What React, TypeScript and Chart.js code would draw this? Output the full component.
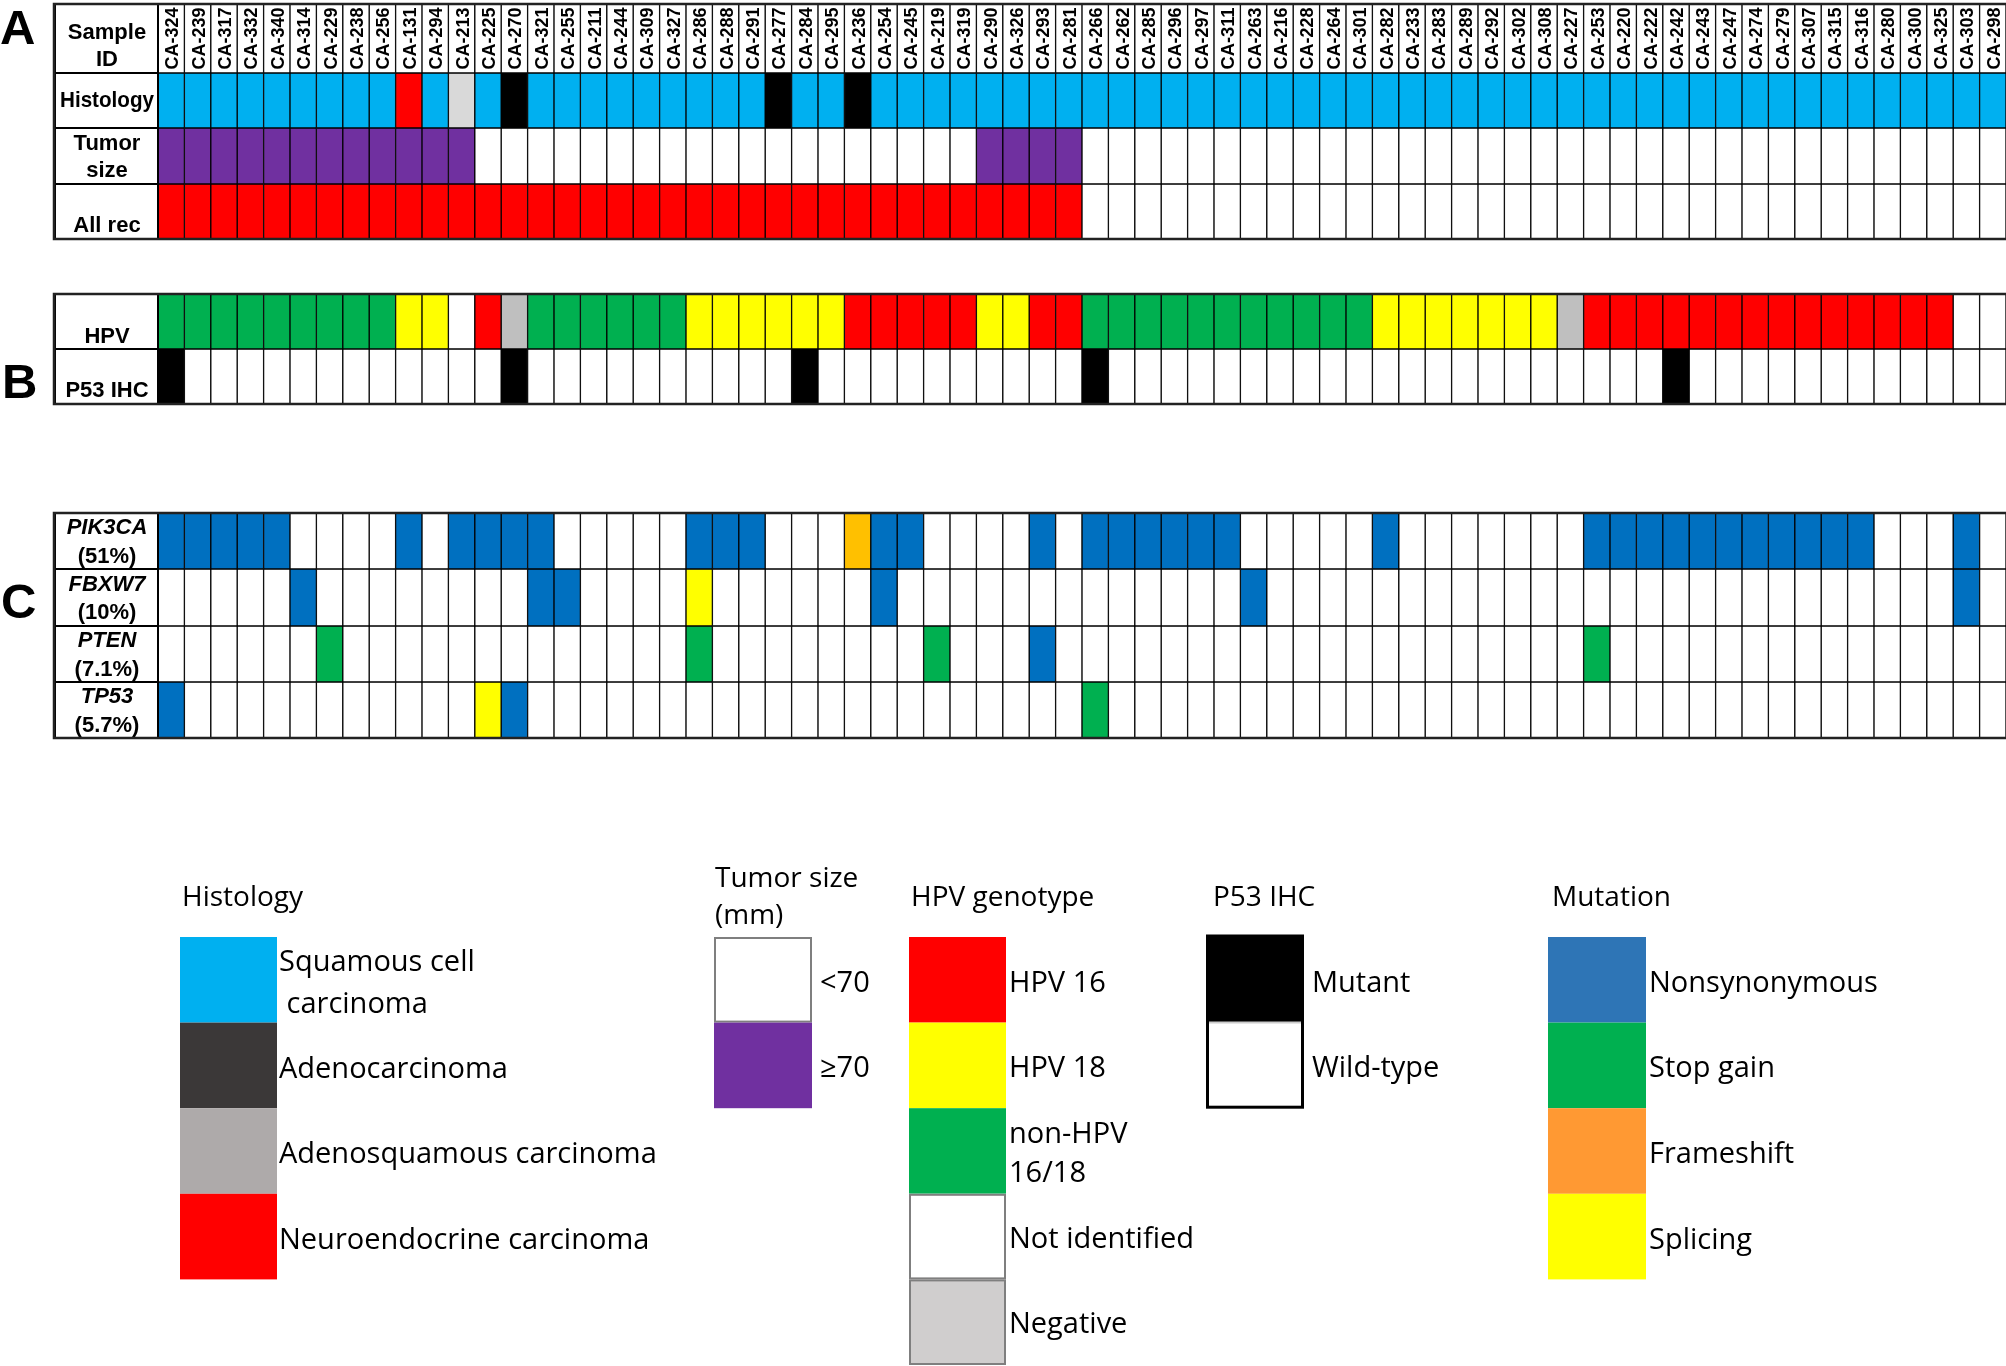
import React, { useEffect, useRef } from "react";
import { Chart, registerables } from "chart.js";

Chart.register(...registerables);

// ---------------- DATA ----------------
const SAMPLES = [
  "CA-324", "CA-239", "CA-317", "CA-332", "CA-340", "CA-314", "CA-229", "CA-238", "CA-256", "CA-131",
  "CA-294", "CA-213", "CA-225", "CA-270", "CA-321", "CA-255", "CA-211", "CA-244", "CA-309", "CA-327",
  "CA-286", "CA-288", "CA-291", "CA-277", "CA-284", "CA-295", "CA-236", "CA-254", "CA-245", "CA-219",
  "CA-319", "CA-290", "CA-326", "CA-293", "CA-281", "CA-266", "CA-262", "CA-285", "CA-296", "CA-297",
  "CA-311", "CA-263", "CA-216", "CA-228", "CA-264", "CA-301", "CA-282", "CA-233", "CA-283", "CA-289",
  "CA-292", "CA-302", "CA-308", "CA-227", "CA-253", "CA-220", "CA-222", "CA-242", "CA-243", "CA-247",
  "CA-274", "CA-279", "CA-307", "CA-315", "CA-316", "CA-280", "CA-300", "CA-325", "CA-303", "CA-298",
];

// SCC squamous, ADC adeno, ASC adenosquamous, NEC neuroendocrine
const HISTOLOGY = [
  "SCC", "SCC", "SCC", "SCC", "SCC", "SCC", "SCC", "SCC", "SCC", "NEC",
  "SCC", "ASC", "SCC", "ADC", "SCC", "SCC", "SCC", "SCC", "SCC", "SCC",
  "SCC", "SCC", "SCC", "ADC", "SCC", "SCC", "ADC", "SCC", "SCC", "SCC",
  "SCC", "SCC", "SCC", "SCC", "SCC", "SCC", "SCC", "SCC", "SCC", "SCC",
  "SCC", "SCC", "SCC", "SCC", "SCC", "SCC", "SCC", "SCC", "SCC", "SCC",
  "SCC", "SCC", "SCC", "SCC", "SCC", "SCC", "SCC", "SCC", "SCC", "SCC",
  "SCC", "SCC", "SCC", "SCC", "SCC", "SCC", "SCC", "SCC", "SCC", "SCC",
];

const TUMOR_SIZE = [
  ">=70", ">=70", ">=70", ">=70", ">=70", ">=70", ">=70", ">=70", ">=70", ">=70",
  ">=70", ">=70", "<70", "<70", "<70", "<70", "<70", "<70", "<70", "<70",
  "<70", "<70", "<70", "<70", "<70", "<70", "<70", "<70", "<70", "<70",
  "<70", ">=70", ">=70", ">=70", ">=70", "<70", "<70", "<70", "<70", "<70",
  "<70", "<70", "<70", "<70", "<70", "<70", "<70", "<70", "<70", "<70",
  "<70", "<70", "<70", "<70", "<70", "<70", "<70", "<70", "<70", "<70",
  "<70", "<70", "<70", "<70", "<70", "<70", "<70", "<70", "<70", "<70",
];

const ALL_REC = [
  "Y", "Y", "Y", "Y", "Y", "Y", "Y", "Y", "Y", "Y",
  "Y", "Y", "Y", "Y", "Y", "Y", "Y", "Y", "Y", "Y",
  "Y", "Y", "Y", "Y", "Y", "Y", "Y", "Y", "Y", "Y",
  "Y", "Y", "Y", "Y", "Y", "N", "N", "N", "N", "N",
  "N", "N", "N", "N", "N", "N", "N", "N", "N", "N",
  "N", "N", "N", "N", "N", "N", "N", "N", "N", "N",
  "N", "N", "N", "N", "N", "N", "N", "N", "N", "N",
];

// 16 = HPV16, 18 = HPV18, O = non-HPV 16/18, ND = not identified, NEG = negative
const HPV = [
  "O", "O", "O", "O", "O", "O", "O", "O", "O", "18",
  "18", "ND", "16", "NEG", "O", "O", "O", "O", "O", "O",
  "18", "18", "18", "18", "18", "18", "16", "16", "16", "16",
  "16", "18", "18", "16", "16", "O", "O", "O", "O", "O",
  "O", "O", "O", "O", "O", "O", "18", "18", "18", "18",
  "18", "18", "18", "NEG", "16", "16", "16", "16", "16", "16",
  "16", "16", "16", "16", "16", "16", "16", "16", "ND", "ND",
];

// M = mutant, W = wild-type
const P53_IHC = [
  "M", "W", "W", "W", "W", "W", "W", "W", "W", "W",
  "W", "W", "W", "M", "W", "W", "W", "W", "W", "W",
  "W", "W", "W", "W", "M", "W", "W", "W", "W", "W",
  "W", "W", "W", "W", "W", "M", "W", "W", "W", "W",
  "W", "W", "W", "W", "W", "W", "W", "W", "W", "W",
  "W", "W", "W", "W", "W", "W", "W", "M", "W", "W",
  "W", "W", "W", "W", "W", "W", "W", "W", "W", "W",
];

// N = nonsynonymous, S = stop gain, F = frameshift, P = splicing, - = none
const PIK3CA = [
  "N", "N", "N", "N", "N", "-", "-", "-", "-", "N",
  "-", "N", "N", "N", "N", "-", "-", "-", "-", "-",
  "N", "N", "N", "-", "-", "-", "F", "N", "N", "-",
  "-", "-", "-", "N", "-", "N", "N", "N", "N", "N",
  "N", "-", "-", "-", "-", "-", "N", "-", "-", "-",
  "-", "-", "-", "-", "N", "N", "N", "N", "N", "N",
  "N", "N", "N", "N", "N", "-", "-", "-", "N", "-",
];

const FBXW7 = [
  "-", "-", "-", "-", "-", "N", "-", "-", "-", "-",
  "-", "-", "-", "-", "N", "N", "-", "-", "-", "-",
  "P", "-", "-", "-", "-", "-", "-", "N", "-", "-",
  "-", "-", "-", "-", "-", "-", "-", "-", "-", "-",
  "-", "N", "-", "-", "-", "-", "-", "-", "-", "-",
  "-", "-", "-", "-", "-", "-", "-", "-", "-", "-",
  "-", "-", "-", "-", "-", "-", "-", "-", "N", "-",
];

const PTEN = [
  "-", "-", "-", "-", "-", "-", "S", "-", "-", "-",
  "-", "-", "-", "-", "-", "-", "-", "-", "-", "-",
  "S", "-", "-", "-", "-", "-", "-", "-", "-", "S",
  "-", "-", "-", "N", "-", "-", "-", "-", "-", "-",
  "-", "-", "-", "-", "-", "-", "-", "-", "-", "-",
  "-", "-", "-", "-", "S", "-", "-", "-", "-", "-",
  "-", "-", "-", "-", "-", "-", "-", "-", "-", "-",
];

const TP53 = [
  "N", "-", "-", "-", "-", "-", "-", "-", "-", "-",
  "-", "-", "P", "N", "-", "-", "-", "-", "-", "-",
  "-", "-", "-", "-", "-", "-", "-", "-", "-", "-",
  "-", "-", "-", "-", "-", "S", "-", "-", "-", "-",
  "-", "-", "-", "-", "-", "-", "-", "-", "-", "-",
  "-", "-", "-", "-", "-", "-", "-", "-", "-", "-",
  "-", "-", "-", "-", "-", "-", "-", "-", "-", "-",
];

// ---------------- STYLES / LAYOUT ----------------
const W = 2006;
const H = 1366;
const LABEL_LEFT = 54;
const GRID_LEFT = 158;
const Y_MAX = 740;

const HIST_COLORS: Record<string, string> = { SCC: "#00b0f0", ADC: "#000000", ASC: "#d9d9d9", NEC: "#ff0000" };
const SIZE_COLORS: Record<string, string> = { ">=70": "#7030a0", "<70": "#ffffff" };
const REC_COLORS: Record<string, string> = { Y: "#ff0000", N: "#ffffff" };
const HPV_COLORS: Record<string, string> = { "16": "#ff0000", "18": "#ffff00", O: "#00b050", ND: "#ffffff", NEG: "#bfbfbf" };
const P53_COLORS: Record<string, string> = { M: "#000000", W: "#ffffff" };
const MUT_COLORS: Record<string, string> = { N: "#0070c0", S: "#00b050", F: "#ffc000", P: "#ffff00", "-": "#ffffff" };

type LabelLine = { text: string; base: number; italic?: boolean };
type Row = { values: string[]; colors: Record<string, string>; top: number; bottom: number; label: LabelLine[]; header?: boolean };

const ROWS: Row[] = [
  { values: SAMPLES, colors: {}, top: 4, bottom: 73, header: true, label: [{ text: "Sample", base: 35 }, { text: "ID", base: 62 }] },
  { values: HISTOLOGY, colors: HIST_COLORS, top: 73, bottom: 128, label: [{ text: "Histology", base: 34 }] },
  { values: TUMOR_SIZE, colors: SIZE_COLORS, top: 128, bottom: 184, label: [{ text: "Tumor", base: 22 }, { text: "size", base: 49 }] },
  { values: ALL_REC, colors: REC_COLORS, top: 184, bottom: 239, label: [{ text: "All rec", base: 48 }] },
  { values: HPV, colors: HPV_COLORS, top: 294, bottom: 349, label: [{ text: "HPV", base: 49 }] },
  { values: P53_IHC, colors: P53_COLORS, top: 349, bottom: 404, label: [{ text: "P53 IHC", base: 48 }] },
  { values: PIK3CA, colors: MUT_COLORS, top: 513, bottom: 569, label: [{ text: "PIK3CA", base: 21, italic: true }, { text: "(51%)", base: 50 }] },
  { values: FBXW7, colors: MUT_COLORS, top: 569, bottom: 626, label: [{ text: "FBXW7", base: 22, italic: true }, { text: "(10%)", base: 50 }] },
  { values: PTEN, colors: MUT_COLORS, top: 626, bottom: 682, label: [{ text: "PTEN", base: 21, italic: true }, { text: "(7.1%)", base: 50 }] },
  { values: TP53, colors: MUT_COLORS, top: 682, bottom: 738, label: [{ text: "TP53", base: 21, italic: true }, { text: "(5.7%)", base: 50 }] },
];

const BLOCKS = [
  { letter: "A", top: 4, bottom: 239, lx: 0, ly: 44 },
  { letter: "B", top: 294, bottom: 404, lx: 2, ly: 398 },
  { letter: "C", top: 513, bottom: 738, lx: 1, ly: 618 },
];

type LegendItem = { label: string[]; color: string; border?: string };
type LegendGroup = { title: string[]; tx: number; ty: number[]; bx: number; bw: number; items: LegendItem[]; lx: number; lys: number[][]; outline?: string };

const LEGEND: LegendGroup[] = [
  {
    title: ["Histology"], tx: 182, ty: [906], bx: 180, bw: 97, lx: 279,
    items: [
      { label: ["Squamous cell", " carcinoma"], color: "#00b0f0" },
      { label: ["Adenocarcinoma"], color: "#3b3838" },
      { label: ["Adenosquamous carcinoma"], color: "#aeaaaa" },
      { label: ["Neuroendocrine carcinoma"], color: "#ff0000" },
    ],
    lys: [[971, 1013], [1078], [1163], [1249]],
  },
  {
    title: ["Tumor size", "(mm)"], tx: 715, ty: [887, 924], bx: 714, bw: 98, lx: 820,
    items: [
      { label: ["<70"], color: "#ffffff", border: "#7f7f7f" },
      { label: ["\u226570"], color: "#7030a0" },
    ],
    lys: [[992], [1077]],
  },
  {
    title: ["HPV genotype"], tx: 911, ty: [906], bx: 909, bw: 97, lx: 1009,
    items: [
      { label: ["HPV 16"], color: "#ff0000" },
      { label: ["HPV 18"], color: "#ffff00" },
      { label: ["non-HPV", "16/18"], color: "#00b050" },
      { label: ["Not identified"], color: "#ffffff", border: "#7f7f7f" },
      { label: ["Negative"], color: "#d0cece", border: "#7f7f7f" },
    ],
    lys: [[992], [1077], [1143, 1182], [1248], [1333]],
  },
  {
    title: ["P53 IHC"], tx: 1213, ty: [906], bx: 1206, bw: 98, lx: 1312, outline: "#000000",
    items: [
      { label: ["Mutant"], color: "#000000" },
      { label: ["Wild-type"], color: "#ffffff" },
    ],
    lys: [[992], [1077]],
  },
  {
    title: ["Mutation"], tx: 1552, ty: [906], bx: 1548, bw: 98, lx: 1649,
    items: [
      { label: ["Nonsynonymous"], color: "#2e75b6" },
      { label: ["Stop gain"], color: "#00b050" },
      { label: ["Frameshift"], color: "#ff9933" },
      { label: ["Splicing"], color: "#ffff00" },
    ],
    lys: [[992], [1077], [1163], [1249]],
  },
];
const LEGEND_TOP = 937;
const LEGEND_STEP = 85.6;

const BOLD = '"Liberation Sans", Arial, Helvetica, sans-serif';
const LEG_FONT = '"Open Sans", "Noto Sans", sans-serif';

const overlayPlugin = {
  id: "oncoOverlay",
  afterDatasetsDraw(chart: any) {
    const ctx: CanvasRenderingContext2D = chart.ctx;
    const xs = chart.scales.x;
    const ys = chart.scales.y;
    ctx.save();

    // Row label boxes
    for (const row of ROWS) {
      const t = ys.getPixelForValue(row.top);
      const b = ys.getPixelForValue(row.bottom);
      ctx.fillStyle = "#ffffff";
      ctx.fillRect(LABEL_LEFT, t, GRID_LEFT - LABEL_LEFT, b - t);
      ctx.strokeStyle = "#000000";
      ctx.lineWidth = 2;
      ctx.strokeRect(LABEL_LEFT + 1, t, GRID_LEFT - LABEL_LEFT - 1, b - t);
      ctx.fillStyle = "#000000";
      ctx.textAlign = "center";
      ctx.textBaseline = "alphabetic";
      for (const line of row.label) {
        ctx.font = `${line.italic ? "italic " : ""}bold 22px ${BOLD}`;
        ctx.fillText(line.text, (LABEL_LEFT + GRID_LEFT) / 2 + 1, t + line.base, 94);
      }
    }

    // Sample IDs (vertical) in header row
    const header = ROWS[0];
    const yc = (ys.getPixelForValue(header.top) + ys.getPixelForValue(header.bottom)) / 2;
    ctx.font = `bold 19px ${BOLD}`;
    ctx.fillStyle = "#000000";
    ctx.textAlign = "center";
    ctx.textBaseline = "alphabetic";
    SAMPLES.forEach((id, i) => {
      const x = xs.getPixelForValue(i);
      ctx.save();
      ctx.translate(x, yc);
      ctx.rotate(-Math.PI / 2);
      ctx.fillText(id, 0, 7, 62);
      ctx.restore();
    });

    // Block outlines (top / bottom / left)
    ctx.strokeStyle = "#222222";
    ctx.lineWidth = 2.5;
    for (const blk of BLOCKS) {
      const t = ys.getPixelForValue(blk.top);
      const b = ys.getPixelForValue(blk.bottom);
      ctx.beginPath();
      ctx.moveTo(W, t);
      ctx.lineTo(LABEL_LEFT, t);
      ctx.lineTo(LABEL_LEFT, b);
      ctx.lineTo(W, b);
      ctx.stroke();
      ctx.fillStyle = "#000000";
      ctx.font = `bold 49px ${BOLD}`;
      ctx.textAlign = "left";
      ctx.fillText(blk.letter, blk.lx, blk.ly);
    }

    // Legend
    ctx.textAlign = "left";
    ctx.textBaseline = "alphabetic";
    for (const g of LEGEND) {
      ctx.fillStyle = "#000000";
      ctx.font = `28px ${LEG_FONT}`;
      g.title.forEach((t, k) => ctx.fillText(t, g.tx, g.ty[k]));
      g.items.forEach((it, k) => {
        const y0 = LEGEND_TOP + k * LEGEND_STEP;
        ctx.fillStyle = it.color;
        ctx.fillRect(g.bx, y0, g.bw, LEGEND_STEP);
        if (it.border) {
          ctx.strokeStyle = it.border;
          ctx.lineWidth = 2;
          ctx.strokeRect(g.bx + 1, y0 + 1, g.bw - 2, LEGEND_STEP - 2);
        }
        ctx.fillStyle = "#000000";
        ctx.font = `29px ${LEG_FONT}`;
        it.label.forEach((s, j) => ctx.fillText(s, g.lx, g.lys[k][j]));
      });
      if (g.outline) {
        ctx.strokeStyle = g.outline;
        ctx.lineWidth = 3;
        ctx.strokeRect(g.bx + 1.5, LEGEND_TOP - 1, g.bw - 3, g.items.length * LEGEND_STEP);
        ctx.lineWidth = 2;
        ctx.beginPath();
        ctx.moveTo(g.bx + 3, LEGEND_TOP + LEGEND_STEP);
        ctx.lineTo(g.bx + g.bw - 3, LEGEND_TOP + LEGEND_STEP);
        ctx.strokeStyle = "#cccccc";
        ctx.stroke();
      }
    }
    ctx.restore();
  },
};

export default function App() {
  const canvasRef = useRef<HTMLCanvasElement | null>(null);

  useEffect(() => {
    document.body.style.margin = "0";
    const canvas = canvasRef.current;
    if (!canvas) return;

    const datasets = ROWS.map((row) => ({
      data: row.values.map(() => [row.top, row.bottom] as [number, number]),
      backgroundColor: row.values.map((v) => (row.header ? "#ffffff" : row.colors[v] ?? "#ffffff")),
      borderColor: "#000000",
      borderWidth: 1,
      borderSkipped: false as const,
      barPercentage: 1,
      categoryPercentage: 1,
      grouped: false,
    }));

    const chart = new Chart(canvas, {
      type: "bar",
      data: { labels: SAMPLES, datasets: datasets as any },
      options: {
        animation: false,
        responsive: false,
        maintainAspectRatio: false,
        devicePixelRatio: 1,
        layout: { padding: { left: GRID_LEFT, right: 0, top: 0, bottom: H - Y_MAX } },
        plugins: { legend: { display: false }, tooltip: { enabled: false } },
        scales: {
          x: { type: "category", display: false, offset: true, grid: { display: false } },
          y: { type: "linear", display: false, min: 0, max: Y_MAX, reverse: true },
        },
      },
      plugins: [overlayPlugin],
    });

    return () => chart.destroy();
  }, []);

  return (
    <div style={{ position: "absolute", left: 0, top: 0, width: W, height: H, background: "#ffffff" }}>
      <canvas ref={canvasRef} width={W} height={H} style={{ width: W, height: H, display: "block" }} />
    </div>
  );
}
